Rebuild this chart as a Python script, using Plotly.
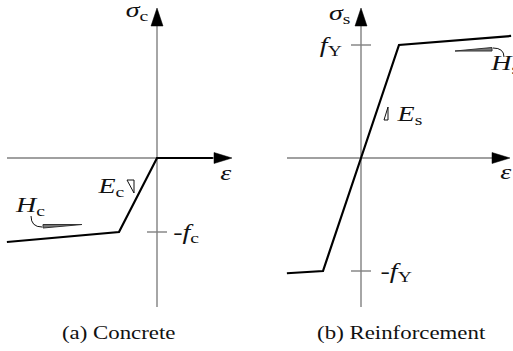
import plotly.graph_objects as go

# ---- constitutive data (normalised units) ----
# concrete: strain / eps_c0, stress / f_c
eps_c = [-3.95, -1.0, 0.0, 1.47]
sig_c = [-1.135, -1.0, 0.0, 0.0]
# reinforcement: strain / eps_Y, stress / f_Y
eps_s = [-1.95, -1.0, 0.0, 1.0, 3.95]
sig_s = [-1.02, -1.0, 0.0, 1.0, 1.08]

captions = ["(a) Concrete", "(b) Reinforcement"]

# ---- page layout ----
W, H = 513, 351
SPLIT = 256
SX = 38.0                     # px per strain unit
SYA, SYB = 74.0, 113.0        # px per stress unit
OA = (157, 158)               # origin of panel (a) in px
OB = (361, 158)               # origin of panel (b) in px

AX_COL = "#808080"
INK = "#111111"
FONT = "Liberation Serif"

fig = go.Figure()
fig.add_trace(go.Scatter(x=eps_c, y=sig_c, mode="lines", xaxis="x", yaxis="y",
                         line=dict(color="black", width=2.2), hoverinfo="skip"))
fig.add_trace(go.Scatter(x=eps_s, y=sig_s, mode="lines", xaxis="x2", yaxis="y2",
                         line=dict(color="black", width=2.2), hoverinfo="skip"))

shapes = []
annotations = []


def pshape(xr, yr, path, line_color, width, fill=None, layer="below"):
    """Path given in pixel offsets from the panel origin (y up)."""
    d = dict(type="path", xref=xr, yref=yr, xsizemode="pixel", ysizemode="pixel",
             xanchor=0, yanchor=0, path=path, layer=layer,
             line=dict(color=line_color, width=width))
    if fill:
        d["fillcolor"] = fill
    shapes.append(d)


def label(xr, yr, text, dx, dy, yval=0, size=20):
    annotations.append(dict(xref=xr, yref=yr, x=0, y=yval, text=text, showarrow=False,
                            xshift=dx, yshift=dy, xanchor="center", yanchor="middle",
                            font=dict(family=FONT, size=size, color=INK)))


def axes_cross(xr, yr, left, right, down, up):
    # axis lines
    pshape(xr, yr, f"M {left},0 L {right - 10},0", AX_COL, 1.4)
    pshape(xr, yr, f"M 0,{down} L 0,{up - 10}", AX_COL, 1.4)
    # arrow heads
    pshape(xr, yr, f"M {right},0 L {right - 18},5.5 L {right - 18},-5.5 Z",
           "black", 0.5, fill="black", layer="above")
    pshape(xr, yr, f"M 0,{up} L -6,{up - 18} L 6,{up - 18} Z",
           "black", 0.5, fill="black", layer="above")


def tick(xr, yr, yval):
    shapes.append(dict(type="line", xref=xr, yref=yr, xsizemode="pixel", xanchor=0,
                       x0=-10, x1=10, y0=yval, y1=yval, layer="below",
                       line=dict(color=AX_COL, width=1.4)))


# ---- panel (a): concrete ----
axes_cross("x", "y", -150, 75, -149, 150)
tick("x", "y", sig_c[1])
pshape("x", "y", "M -30,-22 L -23,-22 L -23,-35 Z", INK, 1, layer="above")
pshape("x", "y", "M -114,-66.5 L -75,-66.5 L -114,-70 Z", "#333333", 1, fill="#777777", layer="above")
pshape("x", "y", "M -126,-58 Q -126,-69 -115,-69", INK, 1, layer="above")

label("x", "y", "<i>σ</i><sub>c</sub>", -20, 147)
label("x", "y", "<i>ε</i>", 69, -15)
label("x", "y", "<i>E</i><sub>c</sub>", -47, -29)
label("x", "y", "<i>H</i><sub>c</sub>", -127, -48)
label("x", "y", "-<i>f</i><sub>c</sub>", 29, -1, yval=sig_c[1])
label("x", "y", captions[0], -39, -175, size=18)

# ---- panel (b): reinforcement ----
axes_cross("x2", "y2", -74, 149, -149, 150)
tick("x2", "y2", sig_s[3])
tick("x2", "y2", sig_s[1])
pshape("x2", "y2", "M 27,51 L 23,38 L 27,38 Z", INK, 1, layer="above")
pshape("x2", "y2", "M 94,107 L 131,107 L 131,110.5 Z", "#333333", 1, fill="#777777", layer="above")
pshape("x2", "y2", "M 132,110 Q 143,110 143,101", INK, 1, layer="above")

label("x2", "y2", "<i>σ</i><sub>s</sub>", -22, 144)
label("x2", "y2", "<i>f</i><sub>Y</sub>", -30, -1, yval=sig_s[3])
label("x2", "y2", "<i>E</i><sub>s</sub>", 48, 43)
label("x2", "y2", "<i>H</i><sub>s</sub>", 143, 94)
label("x2", "y2", "-<i>f</i><sub>Y</sub>", 35, -1, yval=sig_s[1])
label("x2", "y2", "<i>ε</i>", 145, -14)
label("x2", "y2", captions[1], 40, -175, size=18)


def ax(lo, hi, dom, anchor):
    return dict(range=[lo, hi], domain=dom, visible=False, fixedrange=True, anchor=anchor)


fig.update_layout(
    width=W, height=H, margin=dict(l=0, r=0, t=0, b=0),
    paper_bgcolor="white", plot_bgcolor="white", showlegend=False,
    xaxis=ax(-OA[0] / SX, (SPLIT - OA[0]) / SX, [0, SPLIT / W], "y"),
    yaxis=ax(-(H - OA[1]) / SYA, OA[1] / SYA, [0, 1], "x"),
    xaxis2=ax((SPLIT - OB[0]) / SX, (W - OB[0]) / SX, [SPLIT / W, 1], "y2"),
    yaxis2=ax(-(H - OB[1]) / SYB, OB[1] / SYB, [0, 1], "x2"),
    shapes=shapes, annotations=annotations,
)

# wide serif lettering
style_js = (
    "var s=document.createElement('style');"
    "s.textContent='.annotation-text{transform-box:fill-box;transform-origin:center;"
    "transform:scaleX(1.4);} .annotation-text[data-unformatted*=\"(\"]{transform:scaleX(1.27);}';"
    "document.head.appendChild(s);"
)

fig.write_html("out.html", config=dict(displayModeBar=False, staticPlot=True),
               post_script=style_js)
